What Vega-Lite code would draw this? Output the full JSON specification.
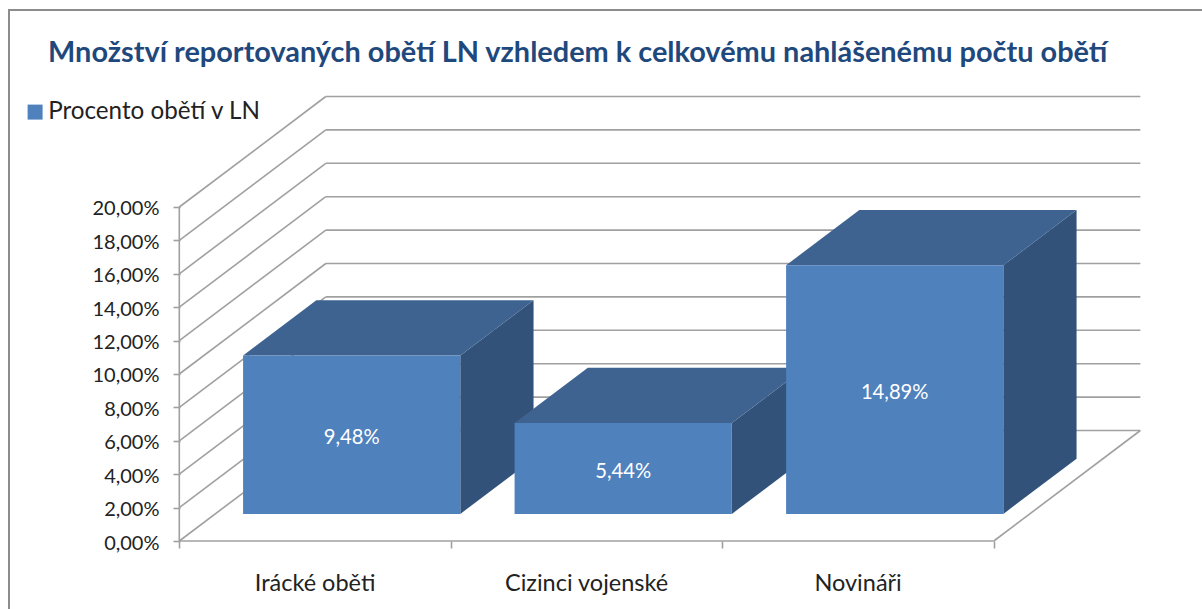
{
 "$schema":"https://vega.github.io/schema/vega-lite/v6.json",
 "width":1200,"height":605,
 "autosize":{"type":"none"},
 "padding":{"left":9,"top":10,"right":-7,"bottom":-6},
 "background":"white",
 "view":{"stroke":"#8c8c8c","strokeWidth":2,"fill":"white"},
 "title":{"text":"Množství reportovaných obětí LN vzhledem k celkovému nahlášenému počtu obětí","anchor":"start","frame":"group","orient":"top","offset":0,"dx":39,"dy":81,"font":"Lato","fontSize":28.9,"fontWeight":"bold","color":"#1F497D","baseline":"alphabetic","limit":1190},
 "config":{"font":"Lato","axis":{"grid":false,"domain":false}},
 "datasets":{
  "bars":[
   {"category":"Irácké oběti","position":0,"value":9.48,"series":"Procento obětí v LN"},
   {"category":"Cizinci vojenské","position":1,"value":5.44,"series":"Procento obětí v LN"},
   {"category":"Novináři","position":2,"value":14.89,"series":"Procento obětí v LN"}
  ],
  "grid":[{"v":0},{"v":2},{"v":4},{"v":6},{"v":8},{"v":10},{"v":12},{"v":14},{"v":16},{"v":18},{"v":20}]
 },
 "layer":[
  {"data":{"name":"grid"},
   "transform":[{"calculate":"datum.v+6.6168","as":"vb"},{"calculate":"0.5396","as":"xb"},{"calculate":"3.5396","as":"xe"}],
   "mark":{"type":"rule","color":"#a0a0a0","strokeWidth":1.6},
   "encoding":{
    "x":{"field":"xb","type":"quantitative","title":null,"scale":{"domain":[-0.62723,3.79247],"nice":false,"zero":false},
      "axis":{"values":[0,1,2,3],"labels":false,"offset":-74,"tickSize":7,"tickColor":"#a0a0a0","tickWidth":1.6,"title":null}},
    "x2":{"field":"xe"},
    "y":{"field":"vb","type":"quantitative","title":null,"scale":{"domain":[-4.431,31.796],"nice":false,"zero":false},
      "axis":{"values":[0,2,4,6,8,10,12,14,16,18,20],"offset":-171,"tickSize":7,"tickColor":"#a0a0a0","tickWidth":1.6,"labelPadding":14,"labelFontSize":20,"labelOffset":2,"labelColor":"#222222","labelFont":"Lato","title":null,"labelExpr":"replace(format(datum.value/100,'.2%'),'.',',')"}}
   }},
  {"data":{"name":"grid"},
   "transform":[{"calculate":"datum.v+6.6168","as":"vb"},{"calculate":"0","as":"xa"},{"calculate":"0.5396","as":"xb"}],
   "mark":{"type":"rule","color":"#a0a0a0","strokeWidth":1.6},
   "encoding":{"x":{"field":"xa","type":"quantitative"},"x2":{"field":"xb"},"y":{"field":"v","type":"quantitative"},"y2":{"field":"vb"}}},
  {"data":{"name":"grid"},
   "transform":[{"filter":"datum.v==0"},{"calculate":"0","as":"xa"},{"calculate":"3","as":"xc"}],
   "mark":{"type":"rule","color":"#a0a0a0","strokeWidth":1.6},
   "encoding":{"x":{"field":"xa","type":"quantitative"},"x2":{"field":"xc"},"y":{"field":"v","type":"quantitative"}}},
  {"data":{"name":"grid"},
   "transform":[{"filter":"datum.v==0"},{"calculate":"3","as":"xc"},{"calculate":"3.5396","as":"xe"},{"calculate":"6.6168","as":"vb"}],
   "mark":{"type":"rule","color":"#a0a0a0","strokeWidth":1.6},
   "encoding":{"x":{"field":"xc","type":"quantitative"},"x2":{"field":"xe"},"y":{"field":"v","type":"quantitative"},"y2":{"field":"vb"}}},
  {"data":{"name":"grid"},
   "transform":[{"filter":"datum.v==0"},{"calculate":"0","as":"xa"},{"calculate":"20","as":"vt"}],
   "mark":{"type":"rule","color":"#a0a0a0","strokeWidth":1.6},
   "encoding":{"x":{"field":"xa","type":"quantitative"},"y":{"field":"v","type":"quantitative"},"y2":{"field":"vt"}}},
  {"data":{"name":"bars"},
   "transform":[{"calculate":"[0.245,0.745]","as":"depth"},{"flatten":["depth"]},
     {"calculate":"datum.position+0.9+(datum.depth+0.005)*0.5396","as":"sx"},
     {"calculate":"datum.depth*6.6168","as":"sy"},
     {"calculate":"datum.value+datum.depth*6.6168","as":"sy2"}],
   "mark":{"type":"area","color":"#32527A","orient":"vertical"},
   "encoding":{"x":{"field":"sx","type":"quantitative"},"y":{"field":"sy","type":"quantitative","stack":null},"y2":{"field":"sy2"},"detail":{"field":"category"}}},
  {"data":{"name":"bars"},
   "transform":[{"calculate":"[0.245,0.745]","as":"depth"},{"flatten":["depth"]},
     {"calculate":"datum.position+0.1+(datum.depth+0.005)*0.5396","as":"tx"},
     {"calculate":"datum.position+0.9+(datum.depth+0.005)*0.5396","as":"tx2"},
     {"calculate":"datum.value+datum.depth*6.6168","as":"ty"}],
   "mark":{"type":"area","color":"#3E6390","orient":"horizontal"},
   "encoding":{"y":{"field":"ty","type":"quantitative"},"x":{"field":"tx","type":"quantitative","stack":null},"x2":{"field":"tx2"},"detail":{"field":"category"}}},
  {"data":{"name":"bars"},
   "transform":[
     {"calculate":"datum.position+0.1+0.25*0.5396","as":"fx"},
     {"calculate":"datum.position+0.9+0.25*0.5396","as":"fx2"},
     {"calculate":"0.245*6.6168","as":"fy"},
     {"calculate":"datum.value+0.245*6.6168","as":"fy2"}],
   "mark":{"type":"rect"},
   "encoding":{"x":{"field":"fx","type":"quantitative"},"x2":{"field":"fx2"},"y":{"field":"fy","type":"quantitative"},"y2":{"field":"fy2"},
     "color":{"field":"series","type":"nominal","scale":{"range":["#4F81BD"]},
       "legend":{"orient":"none","legendX":14,"legendY":90,"title":null,"symbolType":"square","symbolSize":225,"symbolStrokeWidth":0,"labelFontSize":24.2,"labelFont":"Lato","labelColor":"#222222","labelOffset":1,"labelLimit":400}}}},
  {"data":{"name":"bars"},
   "transform":[
     {"calculate":"datum.position+0.5+0.25*0.5396","as":"lx"},
     {"calculate":"datum.value/2+0.245*6.6168","as":"ly"},
     {"calculate":"replace(format(datum.value/100,'.2%'),'.',',')","as":"label"}],
   "mark":{"type":"text","color":"white","fontSize":20.2,"font":"Lato","align":"center","baseline":"middle","dy":3},
   "encoding":{"x":{"field":"lx","type":"quantitative"},"y":{"field":"ly","type":"quantitative"},"text":{"field":"label"}}},
  {"data":{"name":"bars"},
   "transform":[{"calculate":"datum.position+0.5","as":"cx"},{"calculate":"0","as":"cy"}],
   "mark":{"type":"text","color":"#222222","fontSize":23.5,"font":"Lato","align":"center","baseline":"middle","dy":43},
   "encoding":{"x":{"field":"cx","type":"quantitative"},"y":{"field":"cy","type":"quantitative"},"text":{"field":"category"}}}
 ]
}
